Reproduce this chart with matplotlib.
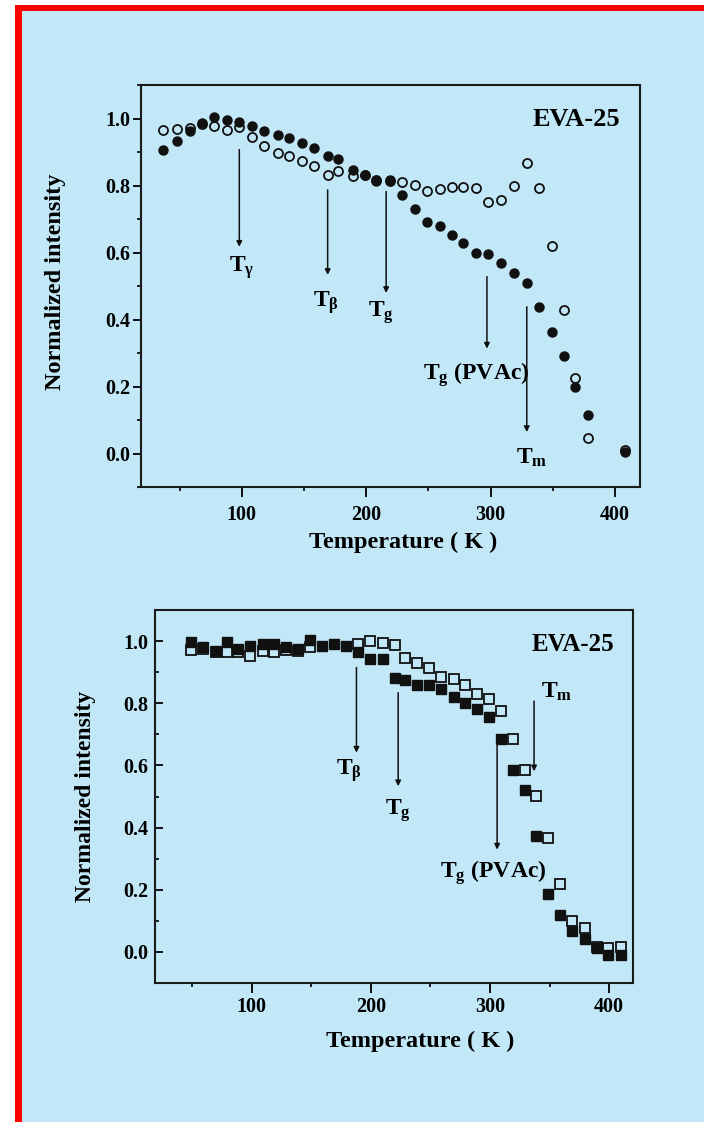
"""==============================================================
# 라이브러리
=============================================================="""
import matplotlib.pyplot as plt
from matplotlib.patches import Rectangle
from matplotlib.ticker import MultipleLocator

plt.rcParams["font.family"] = ["Liberation Serif", "DejaVu Serif"]
plt.rcParams["font.weight"] = "bold"
plt.rcParams["mathtext.fontset"] = "custom"
plt.rcParams["mathtext.rm"] = "Liberation Serif:bold"
plt.rcParams["mathtext.it"] = "Liberation Serif:bold"
plt.rcParams["mathtext.bf"] = "Liberation Serif:bold"

"""==============================================================
# data (위: circle, 아래: square)
=============================================================="""
temp_top = [37, 48, 58, 68, 78, 88, 98, 108, 118, 129, 138, 148, 158, 169,
            177, 189, 199, 208, 219, 229, 239, 249, 259, 269, 278, 288, 298,
            308, 319, 329, 339, 349, 359, 368, 378, 408]
filled_top = [0.905, 0.932, 0.962, 0.987, 1.005, 0.995, 0.990, 0.979, 0.962,
              0.952, 0.942, 0.927, 0.912, 0.887, 0.879, 0.847, 0.832, 0.814,
              0.817, 0.772, 0.731, 0.690, 0.678, 0.653, 0.628, 0.600, 0.596,
              0.568, 0.538, 0.510, 0.436, 0.363, 0.290, 0.199, 0.114, 0.005]
open_top = [0.967, 0.970, 0.972, 0.985, 0.977, 0.965, 0.976, 0.945, 0.917,
            0.897, 0.889, 0.872, 0.857, 0.832, 0.842, 0.829, 0.832, 0.815,
            0.812, 0.809, 0.802, 0.785, 0.789, 0.795, 0.795, 0.793, 0.752,
            0.757, 0.799, 0.867, 0.793, 0.618, 0.428, 0.224, 0.047, 0.009]

temp_bot_filled = [49, 59, 70, 79, 89, 99, 110, 119, 129, 139, 149, 159, 169,
                   179, 189, 199, 210, 220, 229, 239, 249, 259, 270, 279, 289,
                   299, 309, 319, 329, 339, 349, 359, 369, 380, 390, 399, 410]
filled_bot = [0.996, 0.980, 0.969, 0.996, 0.974, 0.985, 0.990, 0.990, 0.980,
              0.975, 1.004, 0.985, 0.990, 0.985, 0.964, 0.942, 0.942, 0.880,
              0.874, 0.858, 0.858, 0.845, 0.820, 0.800, 0.783, 0.756, 0.684,
              0.585, 0.520, 0.374, 0.186, 0.119, 0.068, 0.041, 0.012, -0.010,
              -0.010]
temp_bot_open = [49, 59, 70, 79, 89, 99, 110, 119, 129, 139, 149, 189, 199,
                 210, 220, 229, 239, 249, 259, 270, 279, 289, 299, 309, 319,
                 329, 339, 349, 359, 369, 380, 390, 399, 410]
open_bot = [0.972, 0.975, 0.965, 0.964, 0.965, 0.953, 0.969, 0.964, 0.970,
            0.969, 0.980, 0.990, 1.001, 0.994, 0.987, 0.947, 0.931, 0.915,
            0.883, 0.877, 0.858, 0.831, 0.813, 0.775, 0.684, 0.585, 0.503,
            0.367, 0.218, 0.098, 0.078, 0.015, 0.012, 0.017]

# transition 표시: (label, text x, text y, arrow x, arrow y 시작, arrow y 끝)
marks_top = [
    (r"$\mathregular{T_{\gamma}}$", 100, 0.542, 98, 0.907, 0.617),
    (r"$\mathregular{T_{\beta}}$", 168, 0.437, 169, 0.787, 0.533),
    (r"$\mathregular{T_{g}}$", 212, 0.408, 216, 0.782, 0.479),
    (r"$\mathregular{T_{g}}$ (PVAc)", 288, 0.219, 297, 0.528, 0.313),
    (r"$\mathregular{T_{m}}$", 333, -0.030, 329, 0.438, 0.064),
]
marks_bot = [
    (r"$\mathregular{T_{\beta}}$", 182, 0.571, 188, 0.915, 0.641),
    (r"$\mathregular{T_{g}}$", 223, 0.442, 223, 0.834, 0.533),
    (r"$\mathregular{T_{g}}$ (PVAc)", 303, 0.239, 306, 0.670, 0.329),
    (r"$\mathregular{T_{m}}$", 356, 0.819, 337, 0.807, 0.581),
]

"""==============================================================
# figure, 배경
=============================================================="""
W, H = 704, 1122
fig = plt.figure(figsize=(W / 100, H / 100), dpi=100, facecolor="white")

# 연한 파란 배경과 빨간 테두리 (axes 뒤에 그리기)
fig.patches.append(Rectangle((21.5 / W, 0), 1, 1 - 11 / H,
                             transform=fig.transFigure,
                             facecolor="#c2e8f8", edgecolor="none",
                             zorder=-10))
fig.patches.append(Rectangle((15 / W, 0), 6.5 / W, 1 - 5 / H,
                             transform=fig.transFigure,
                             facecolor="#ff0000", edgecolor="none",
                             zorder=-9))
fig.patches.append(Rectangle((15 / W, 1 - 11 / H), 1, 6 / H,
                             transform=fig.transFigure,
                             facecolor="#ff0000", edgecolor="none",
                             zorder=-9))


def px_axes(left, top, right, bottom):
    return fig.add_axes([left / W, 1 - bottom / H,
                         (right - left) / W, (bottom - top) / H])


ax1 = px_axes(141, 85, 640, 487)
ax2 = px_axes(155, 610, 633, 983)

"""==============================================================
# 공통 스타일
=============================================================="""


def style_axes(ax, y_dir, x_pad, y_pad):
    ax.set_facecolor("none")
    for spine in ax.spines.values():
        spine.set_linewidth(1.5)
        spine.set_color("#1a1a1a")
    ax.set_xlim(19, 420)
    ax.set_ylim(-0.1, 1.1)
    ax.xaxis.set_major_locator(MultipleLocator(100))
    ax.xaxis.set_minor_locator(MultipleLocator(50))
    ax.yaxis.set_major_locator(MultipleLocator(0.2))
    ax.yaxis.set_minor_locator(MultipleLocator(0.1))
    ax.set_xticks([100, 200, 300, 400])
    ax.set_yticks([0.0, 0.2, 0.4, 0.6, 0.8, 1.0])
    ax.set_yticklabels(["0.0", "0.2", "0.4", "0.6", "0.8", "1.0"])
    ax.tick_params(axis="x", which="major", direction="out", length=7,
                   width=1.3, pad=x_pad, labelsize=14.5)
    ax.tick_params(axis="x", which="minor", direction="out", length=3,
                   width=1.2)
    ax.tick_params(axis="y", which="major", direction=y_dir, length=6,
                   width=1.3, pad=y_pad, labelsize=14.5)
    ax.tick_params(axis="y", which="minor", direction=y_dir, length=3,
                   width=1.2)
    ax.tick_params(top=False, right=False, which="both")


style_axes(ax1, "out", 6, 2)
style_axes(ax2, "in", 3, 5)

"""==============================================================
# 위 panel
=============================================================="""
ax1.plot(temp_top, open_top, "o", ms=6.5, mfc="none", mec="#111111", mew=1.3)
ax1.plot(temp_top, filled_top, "o", ms=6.5, mfc="#111111", mec="#111111")

for label, tx, ty, ax_x, y0, y1 in marks_top:
    ax1.annotate("", xy=(ax_x, y1), xytext=(ax_x, y0),
                 arrowprops=dict(arrowstyle="-|>", lw=1.1, color="#111111",
                                 mutation_scale=8, shrinkA=0, shrinkB=0))
    ax1.text(tx, ty, label, ha="center", va="baseline", fontsize=17)

ax1.text(404, 0.977, "EVA-25", ha="right", va="baseline", fontsize=19)
ax1.text(0.525, -0.139, "Temperature ( K )", transform=ax1.transAxes,
         ha="center", va="center", fontsize=17.5)
ax1.text(-0.172, 0.511, "Normalized intensity", transform=ax1.transAxes,
         ha="center", va="center", rotation=90, fontsize=17.5)

"""==============================================================
# 아래 panel
=============================================================="""
ax2.plot(temp_bot_open, open_bot, "s", ms=6.5, mfc="none", mec="#111111",
         mew=1.3)
ax2.plot(temp_bot_filled, filled_bot, "s", ms=6.5, mfc="#111111",
         mec="#111111")

for label, tx, ty, ax_x, y0, y1 in marks_bot:
    ax2.annotate("", xy=(ax_x, y1), xytext=(ax_x, y0),
                 arrowprops=dict(arrowstyle="-|>", lw=1.1, color="#111111",
                                 mutation_scale=8, shrinkA=0, shrinkB=0))
    ax2.text(tx, ty, label, ha="center", va="baseline", fontsize=17)

ax2.text(404, 0.969, "EVA-25", ha="right", va="baseline", fontsize=18)
ax2.text(0.554, -0.157, "Temperature ( K )", transform=ax2.transAxes,
         ha="center", va="center", fontsize=17.5)
ax2.text(-0.146, 0.5, "Normalized intensity", transform=ax2.transAxes,
         ha="center", va="center", rotation=90, fontsize=17)

fig.savefig("out.png", dpi=100, facecolor=fig.get_facecolor())
